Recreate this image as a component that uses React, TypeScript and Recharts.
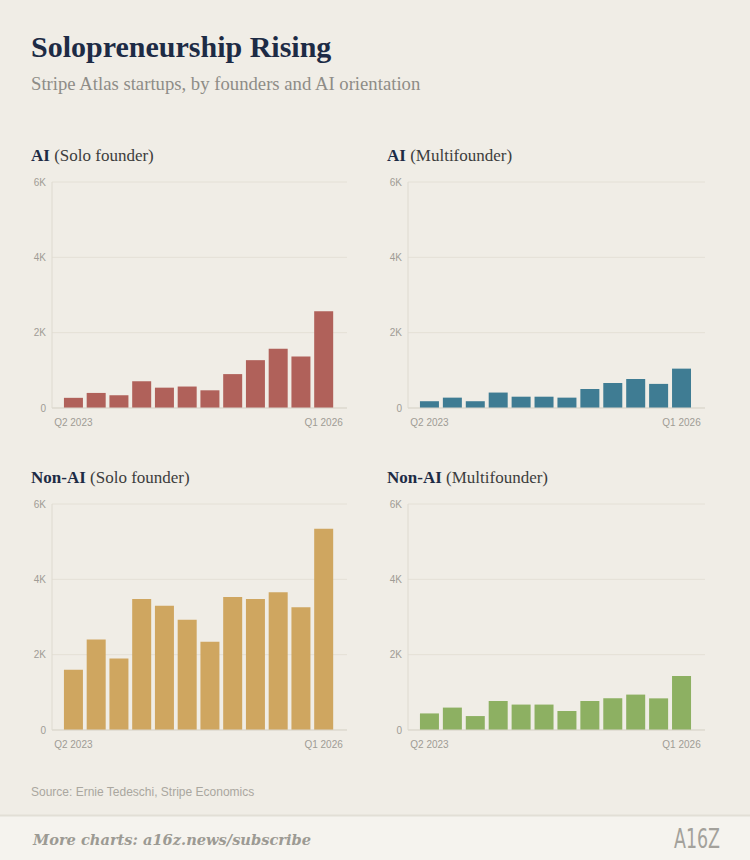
import React from 'react';
import { BarChart, Bar, XAxis, YAxis, CartesianGrid } from 'recharts';

const quarters = ['Q2 2023', 'Q3 2023', 'Q4 2023', 'Q1 2024', 'Q2 2024', 'Q3 2024', 'Q4 2024', 'Q1 2025', 'Q2 2025', 'Q3 2025', 'Q4 2025', 'Q1 2026'];
const aiSolo = [270, 400, 340, 710, 540, 570, 470, 900, 1270, 1570, 1370, 2570];
const aiMulti = [180, 275, 180, 410, 300, 300, 275, 505, 665, 770, 640, 1045];
const nonAiSolo = [1600, 2400, 1900, 3480, 3300, 2930, 2340, 3530, 3480, 3660, 3260, 5340];
const nonAiMulti = [440, 595, 370, 770, 675, 675, 505, 770, 840, 940, 840, 1435];
const yTicks = [0, 2000, 4000, 6000];

const data = quarters.map((q, i) => ({
  q,
  aiSolo: aiSolo[i],
  aiMulti: aiMulti[i],
  nonAiSolo: nonAiSolo[i],
  nonAiMulti: nonAiMulti[i],
}));

const BG = '#f0ede6';
const NAVY = '#1d2b45';
const TICK = { fontSize: 10, fill: '#9f9c95', fontFamily: 'Liberation Sans, Arial, sans-serif' };

const fmt = (v: number) => (v === 0 ? '0' : `${v / 1000}K`);

function Panel(props: { dataKey: string; color: string; left: number; top: number; right: number }) {
  return (
    <div style={{ position: 'absolute', left: props.left, top: props.top }}>
      <BarChart
        width={360}
        height={260}
        data={data}
        margin={{ top: 12, right: props.right, bottom: 0, left: 0 }}
        barCategoryGap="8.5%"
      >
        <CartesianGrid vertical={false} stroke="#e4e0d6" />
        <XAxis
          dataKey="q"
          interval={10}
          tickLine={false}
          axisLine={{ stroke: '#d9d5cb' }}
          tick={TICK}
          tickMargin={5}
          height={22}
          padding={{ left: 10, right: 12 }}
        />
        <YAxis
          domain={[0, 6000]}
          ticks={yTicks}
          tickFormatter={fmt}
          tickLine={false}
          axisLine={{ stroke: '#dedad0' }}
          tick={TICK}
          tickMargin={0}
          width={52}
        />
        <Bar dataKey={props.dataKey} fill={props.color} isAnimationActive={false} />
      </BarChart>
    </div>
  );
}

export default function App() {
  const serif = 'Liberation Serif, Times New Roman, serif';
  return (
    <div style={{ position: 'absolute', left: 0, top: 0, width: 750, height: 860, background: BG, overflow: 'hidden' }}>
      <svg width={750} height={860} style={{ position: 'absolute', left: 0, top: 0 }}>
        <text x={31} y={57} fontFamily={serif} fontWeight="bold" fontSize={30} fill={NAVY}>
          Solopreneurship Rising
        </text>
        <text x={31} y={90} fontFamily={serif} fontSize={18.7} fill="#8e8c87">
          Stripe Atlas startups, by founders and AI orientation
        </text>
        <text x={31} y={161} fontFamily={serif} fontSize={17}>
          <tspan fontWeight="bold" fill={NAVY}>AI</tspan>
          <tspan fill="#3d3d3d"> (Solo founder)</tspan>
        </text>
        <text x={387} y={161} fontFamily={serif} fontSize={17}>
          <tspan fontWeight="bold" fill={NAVY}>AI</tspan>
          <tspan fill="#3d3d3d"> (Multifounder)</tspan>
        </text>
        <text x={31} y={483} fontFamily={serif} fontSize={17}>
          <tspan fontWeight="bold" fill={NAVY}>Non-AI</tspan>
          <tspan fill="#3d3d3d"> (Solo founder)</tspan>
        </text>
        <text x={387} y={483} fontFamily={serif} fontSize={17}>
          <tspan fontWeight="bold" fill={NAVY}>Non-AI</tspan>
          <tspan fill="#3d3d3d"> (Multifounder)</tspan>
        </text>
        <text x={31} y={796} fontFamily="Liberation Sans, Arial, sans-serif" fontSize={12} fill="#aaa79f">
          Source: Ernie Tedeschi, Stripe Economics
        </text>
        <rect x={0} y={816} width={750} height={44} fill="#f5f3ee" />
        <line x1={0} x2={750} y1={815.5} y2={815.5} stroke="#e2dfd6" strokeWidth={2} />
        <text x={33} y={845} fontFamily="DejaVu Serif, serif" fontStyle="italic" fontWeight="bold" fontSize={14.6} fill="#9c9a93">
          More charts: a16z.news/subscribe
        </text>
        <text x={674} y={848} fontFamily="DejaVu Sans Condensed, DejaVu Sans, sans-serif" fontWeight="normal" fontSize={27} fill="#a3a19b" textLength={46} lengthAdjust="spacingAndGlyphs">
          A16Z
        </text>
      </svg>
      <Panel dataKey="aiSolo" color="#b0615a" left={0} top={170} right={13} />
      <Panel dataKey="aiMulti" color="#3f7c93" left={356} top={170} right={11} />
      <Panel dataKey="nonAiSolo" color="#cfa660" left={0} top={492} right={13} />
      <Panel dataKey="nonAiMulti" color="#8db062" left={356} top={492} right={11} />
    </div>
  );
}
